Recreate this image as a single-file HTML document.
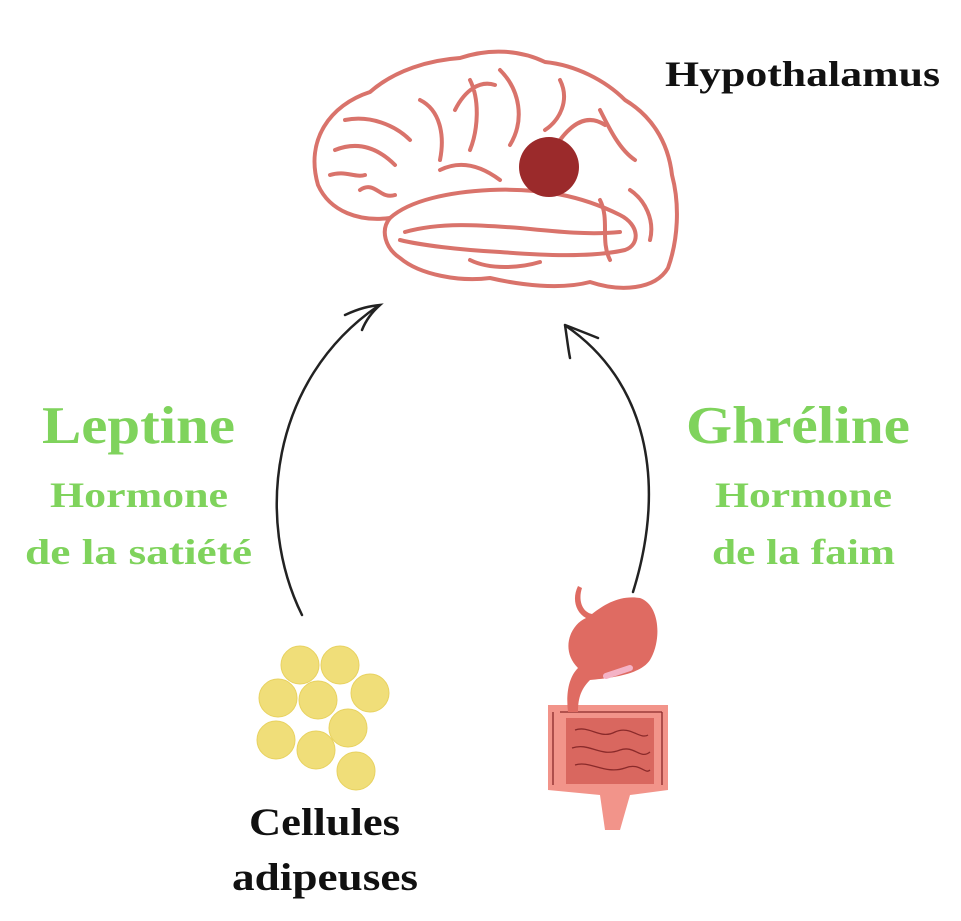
<!DOCTYPE html>
<html><head><meta charset="utf-8"><style>
html,body{margin:0;padding:0;background:#fff;width:961px;height:921px;overflow:hidden}
svg{display:block}
text{font-family:"Liberation Serif",serif;font-weight:bold}
</style></head><body>
<svg width="961" height="921" viewBox="0 0 961 921" xmlns="http://www.w3.org/2000/svg">
<g fill="none" stroke="#d9736b" stroke-width="4" stroke-linecap="round" stroke-linejoin="round">
<path d="M318,185 C305,140 330,105 370,92 C395,70 430,60 460,58 C490,48 520,50 545,62 C575,65 605,80 625,100 C650,115 668,140 672,175 C680,205 678,240 668,268 C655,290 620,292 590,282 C560,290 520,285 490,278 C460,282 420,275 400,258 C385,248 380,230 390,218 C360,222 330,212 318,185 Z" fill="#fff"/>
<path d="M390,218 C410,200 450,192 490,190 C540,188 580,195 620,215 C640,225 640,245 625,250 C590,258 540,255 500,252 C460,250 420,245 400,240"/>
<path d="M405,232 C440,222 480,225 520,228 C560,232 590,235 620,232"/>
<path d="M335,150 C360,140 380,150 395,165 M345,120 C370,115 395,125 410,140 M420,100 C440,110 445,135 440,160 M470,80 C480,100 478,130 470,150 M500,70 C520,90 525,120 510,145 M440,170 C460,160 480,165 500,180 M560,80 C570,100 560,120 545,130 M600,110 C610,130 620,150 635,160 M630,190 C645,200 655,220 650,240 M600,200 C610,220 600,240 610,260 M360,190 C375,180 380,200 395,195 M470,260 C490,270 520,268 540,262 M330,175 C345,170 355,178 365,175 M560,140 C575,120 590,115 605,125 M455,110 C465,90 480,80 495,85"/>
</g>
<circle cx="549" cy="167" r="30" fill="#9b2a2b"/>
<text x="665" y="86" font-size="36" fill="#111" textLength="275" lengthAdjust="spacingAndGlyphs">Hypothalamus</text>

<g fill="none" stroke="#222" stroke-width="2.5" stroke-linecap="round">
<path d="M302,615 C255,520 270,380 378,306"/>
<path d="M345,315 C360,308 370,306 380,305 C372,312 366,320 362,330"/>
<path d="M633,592 C668,480 645,380 566,326"/>
<path d="M565,325 C567,338 568,348 570,358 M565,325 C578,330 588,334 598,338"/>
</g>

<g fill="#7fd35c">
<text x="42" y="443" font-size="53" textLength="193" lengthAdjust="spacingAndGlyphs">Leptine</text>
<text x="50" y="507" font-size="36" textLength="178" lengthAdjust="spacingAndGlyphs">Hormone</text>
<text x="25" y="564" font-size="36" textLength="227" lengthAdjust="spacingAndGlyphs">de la satiété</text>
<text x="686" y="443" font-size="53" textLength="224" lengthAdjust="spacingAndGlyphs">Ghréline</text>
<text x="715" y="507" font-size="36" textLength="177" lengthAdjust="spacingAndGlyphs">Hormone</text>
<text x="712" y="564" font-size="36" textLength="183" lengthAdjust="spacingAndGlyphs">de la faim</text>
</g>

<g fill="#f0de79" stroke="#e8d260" stroke-width="1">
<circle cx="300" cy="665" r="19"/><circle cx="340" cy="665" r="19"/>
<circle cx="278" cy="698" r="19"/><circle cx="318" cy="700" r="19"/><circle cx="370" cy="693" r="19"/>
<circle cx="348" cy="728" r="19"/><circle cx="276" cy="740" r="19"/><circle cx="316" cy="750" r="19"/>
<circle cx="356" cy="771" r="19"/>
</g>
<text x="249" y="835" font-size="39" fill="#111" textLength="151" lengthAdjust="spacingAndGlyphs">Cellules</text>
<text x="232" y="890" font-size="39" fill="#111" textLength="186" lengthAdjust="spacingAndGlyphs">adipeuses</text>

<path d="M548,705 L668,705 L668,790 L630,795 L620,830 L605,830 L600,795 L548,790 Z" fill="#f2948a"/>
<rect x="566" y="718" width="88" height="66" fill="#d9675f"/>
<g fill="none" stroke="#8a2a2a" stroke-width="1.3">
<path d="M575,730 C590,725 600,740 615,732 C630,725 640,740 648,735 M572,748 C590,742 600,758 620,750 C635,745 640,760 650,752 M575,765 C590,760 605,775 625,768 C640,762 645,775 650,770"/>
<path d="M553,712 L553,785 M662,712 L662,785 M560,712 L662,712"/>
</g>
<path d="M582,588 C578,600 582,612 592,614 C605,604 620,595 640,598 C660,605 662,640 650,660 C640,675 610,678 590,680 C580,690 578,700 578,712 L568,712 C566,695 568,678 578,668 C560,650 570,625 586,618 C575,612 572,598 578,586 Z" fill="#df6b62"/>
<path d="M606,676 L630,668" stroke="#f4b3c6" stroke-width="6" stroke-linecap="round"/>
</svg>
</body></html>
